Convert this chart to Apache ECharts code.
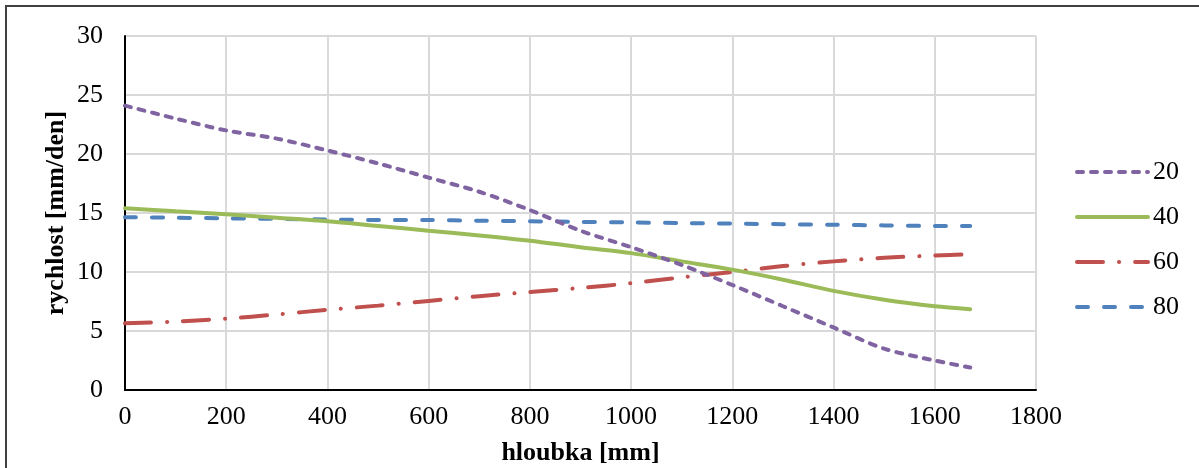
<!DOCTYPE html>
<html>
<head>
<meta charset="utf-8">
<script src="https://cdn.jsdelivr.net/npm/echarts@6/dist/echarts.min.js"></script>
<style>
  html, body { margin: 0; padding: 0; background: #fff; }
  #chart { width: 1199px; height: 468px; }
</style>
</head>
<body>
<div id="chart"></div>
<script>
const depths = [0, 100, 200, 300, 400, 500, 600, 700, 800, 900, 1000, 1100, 1200, 1300, 1400, 1500, 1600, 1670];
const seriesNames = ['20', '40', '60', '80'];
const s20 = [24.1, 23.0, 22.0, 21.3, 20.3, 19.2, 18.0, 16.8, 15.25, 13.5, 12.1, 10.6, 8.9, 7.1, 5.3, 3.5, 2.5, 1.9];
const s40 = [15.4, 15.15, 14.9, 14.6, 14.3, 13.9, 13.5, 13.1, 12.65, 12.1, 11.6, 10.9, 10.2, 9.35, 8.4, 7.65, 7.1, 6.85];
const s60 = [5.65, 5.8, 6.05, 6.4, 6.8, 7.15, 7.55, 7.95, 8.3, 8.65, 9.05, 9.55, 10.0, 10.5, 10.9, 11.2, 11.4, 11.5];
const s80 = [14.65, 14.6, 14.55, 14.5, 14.45, 14.4, 14.4, 14.35, 14.3, 14.25, 14.2, 14.15, 14.1, 14.05, 14.0, 13.95, 13.9, 13.9];
const xTicks = { min: 0, max: 1800, interval: 200 };
const yTicks = { min: 0, max: 30, interval: 5 };

const colors = ['#8064a2', '#9bbb59', '#c0504d', '#4f81bd'];
const dashes = [[6, 8], 'solid', [26, 16, 0.1, 16], [11, 16]];
const allValues = [s20, s40, s60, s80];

const font = '"Liberation Serif", "Times New Roman", serif';

const chart = echarts.init(document.getElementById('chart'), null, { renderer: 'canvas' });
chart.setOption({
  animation: false,
  backgroundColor: '#fff',
  grid: { left: 125, right: 163, top: 36, bottom: 78, containLabel: false, outerBoundsMode: 'none' },
  graphic: [{
    type: 'rect',
    shape: { x: 6, y: 6, width: 1400, height: 800 },
    style: { fill: 'none', stroke: '#404040', lineWidth: 2 },
    silent: true
  }],
  legend: {
    orient: 'vertical',
    left: 1070,
    top: 154,
    itemWidth: 71,
    itemHeight: 14,
    itemGap: 19,
    itemStyle: { opacity: 0 },
    lineStyle: { width: 4 },
    textStyle: { fontFamily: font, fontSize: 26, color: '#000', lineHeight: 26 },
    data: seriesNames
  },
  xAxis: {
    type: 'value',
    min: xTicks.min, max: xTicks.max, interval: xTicks.interval,
    name: 'hloubka [mm]',
    nameLocation: 'middle',
    nameGap: 50,
    nameTextStyle: { fontFamily: font, fontSize: 26, fontWeight: 'bold', color: '#000' },
    axisLine: { show: true, lineStyle: { color: '#000', width: 2 } },
    axisTick: { show: false },
    axisLabel: { fontFamily: font, fontSize: 26, color: '#000', margin: 14, formatter: v => String(v) },
    splitLine: { show: true, lineStyle: { color: '#d9d9d9', width: 2 } }
  },
  yAxis: {
    type: 'value',
    min: yTicks.min, max: yTicks.max, interval: yTicks.interval,
    name: 'rychlost [mm/den]',
    nameLocation: 'middle',
    nameGap: 56,
    nameMoveOverlap: false,
    nameRotate: 90,
    nameTextStyle: { fontFamily: font, fontSize: 26, fontWeight: 'bold', color: '#000' },
    axisLine: { show: true, lineStyle: { color: '#000', width: 2 } },
    axisTick: { show: false },
    axisLabel: { fontFamily: font, fontSize: 26, color: '#000', margin: 22, formatter: v => String(v) },
    splitLine: { show: true, lineStyle: { color: '#d9d9d9', width: 2 } }
  },
  series: seriesNames.map((name, i) => ({
    name: name,
    type: 'line',
    smooth: 0.3,
    symbol: 'none',
    showSymbol: false,
    color: colors[i],
    lineStyle: { color: colors[i], width: 4, type: dashes[i], cap: 'round' },
    data: depths.map((d, k) => [d, allValues[i][k]]),
    z: 10 - i
  }))
});
</script>
</body>
</html>
